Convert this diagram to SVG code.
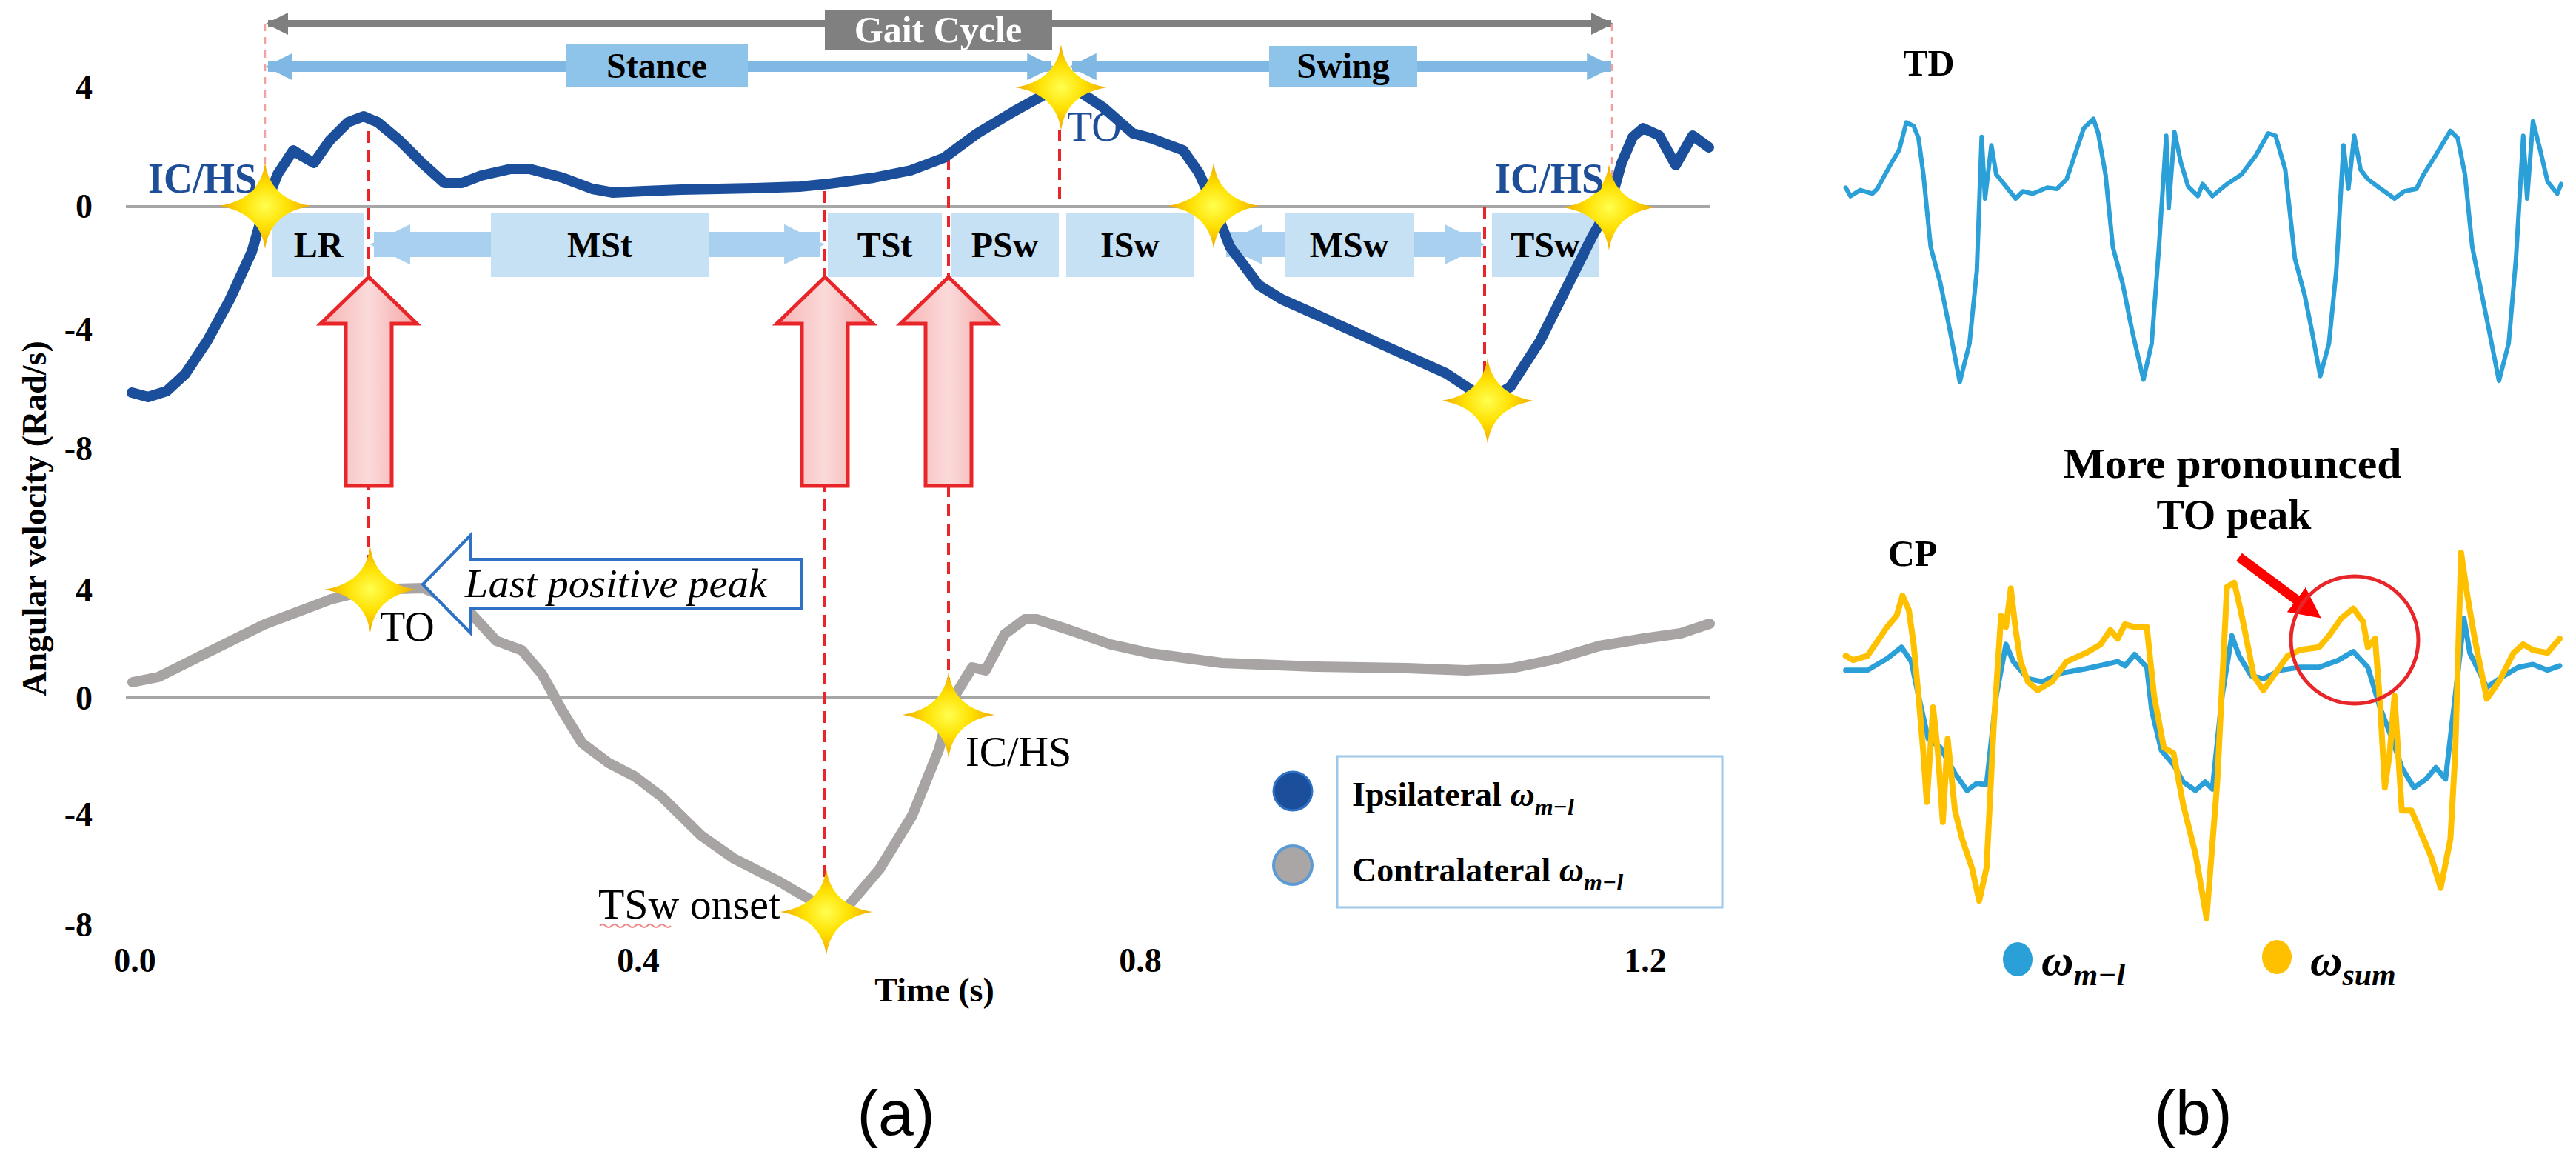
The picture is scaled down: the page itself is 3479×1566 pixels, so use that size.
<svg xmlns="http://www.w3.org/2000/svg" width="3479" height="1566" viewBox="0 0 3479 1566">
<style>
.tick{font-family:"Liberation Serif",serif;font-weight:bold;font-size:46px;fill:#000}
.ph{font-family:"Liberation Serif",serif;font-weight:bold;font-size:48px;fill:#000;text-anchor:middle}
.lbl{font-family:"Liberation Serif",serif;font-size:56px;fill:#000}
.blue{fill:#1f4e99;font-weight:bold}
.rdash{stroke:#e8262a;stroke-width:4;stroke-dasharray:16 10;fill:none}
.ldash{stroke:#f3a0a0;stroke-width:2.5;stroke-dasharray:10 8;fill:none}
.zero{stroke:#a6a6a6;stroke-width:4}
.phbox{fill:#c6e0f4}
.ns{vector-effect:non-scaling-stroke;fill:none;stroke-linejoin:round;stroke-linecap:round}
</style>
<defs>
<radialGradient id="sg" cx="0.5" cy="0.5" r="0.5">
<stop offset="0" stop-color="#ffff50"/><stop offset="0.5" stop-color="#ffe000"/><stop offset="1" stop-color="#f0a800"/>
</radialGradient>
<path id="star" d="M0,-58 Q7,-9 62,0 Q7,9 0,58 Q-7,9 -62,0 Q-7,-9 0,-58Z" fill="url(#sg)"/>
<linearGradient id="pk" x1="0" y1="0" x2="1" y2="0">
<stop offset="0" stop-color="#f7b3b3"/><stop offset="0.5" stop-color="#fbdada"/><stop offset="1" stop-color="#f5a5a5"/>
</linearGradient>
<marker id="gh" viewBox="0 0 10 10" refX="9" refY="5" markerWidth="3" markerHeight="4" orient="auto-start-reverse"><path d="M0,0 L10,5 L0,10 Z" fill="#7f7f7f"/></marker>
<marker id="bh" viewBox="0 0 10 10" refX="9" refY="5" markerWidth="2.6" markerHeight="3.4" orient="auto-start-reverse"><path d="M0,0 L10,5 L0,10 Z" fill="#7fb8e2"/></marker>
<marker id="lh" viewBox="0 0 10 10" refX="9" refY="5" markerWidth="1.6" markerHeight="2.4" orient="auto-start-reverse"><path d="M0,0 L10,5 L0,10 Z" fill="#a9d0ee"/></marker>
<marker id="rh" viewBox="0 0 10 10" refX="5" refY="5" markerWidth="3.2" markerHeight="3.2" orient="auto"><path d="M0,0 L10,5 L0,10 Z" fill="#ff0000"/></marker>
</defs>
<rect width="3479" height="1566" fill="#fff"/>

<g id="axes-a">
<text class="tick" x="125" y="133" text-anchor="end">4</text>
<text class="tick" x="125" y="294" text-anchor="end">0</text>
<text class="tick" x="125" y="460" text-anchor="end">-4</text>
<text class="tick" x="125" y="621" text-anchor="end">-8</text>
<text class="tick" x="125" y="812" text-anchor="end">4</text>
<text class="tick" x="125" y="958" text-anchor="end">0</text>
<text class="tick" x="125" y="1115" text-anchor="end">-4</text>
<text class="tick" x="125" y="1264" text-anchor="end">-8</text>
<text class="tick" x="182" y="1312" text-anchor="middle">0.0</text>
<text class="tick" x="862" y="1312" text-anchor="middle">0.4</text>
<text class="tick" x="1540" y="1312" text-anchor="middle">0.8</text>
<text class="tick" x="2222" y="1312" text-anchor="middle">1.2</text>
<text class="tick" x="1262" y="1352" text-anchor="middle" font-size="56">Time (s)</text>
<text class="tick" transform="translate(62,700) rotate(-90)" text-anchor="middle" font-size="48">Angular velocity (Rad/s)</text>
<line class="zero" x1="170" y1="279" x2="2310" y2="279"/>
<line class="zero" x1="170" y1="942" x2="2310" y2="942"/>
</g>

<g id="gait-cycle">
<line x1="362" y1="32" x2="2176" y2="32" stroke="#7f7f7f" stroke-width="10" marker-start="url(#gh)" marker-end="url(#gh)"/>
<rect x="1114" y="13" width="307" height="55" fill="#808080"/>
<text x="1267" y="57" text-anchor="middle" font-family="Liberation Serif,serif" font-weight="bold" font-size="50" fill="#fff">Gait Cycle</text>
</g>
<g id="stance">
<line x1="362" y1="90" x2="1420" y2="90" stroke="#7fb8e2" stroke-width="14" marker-start="url(#bh)" marker-end="url(#bh)"/>
<rect x="765" y="60" width="245" height="58" fill="#8ec3ea"/>
<text x="887" y="105" text-anchor="middle" font-family="Liberation Serif,serif" font-weight="bold" font-size="48">Stance</text>
</g>
<g id="swing">
<line x1="1448" y1="90" x2="2176" y2="90" stroke="#7fb8e2" stroke-width="14" marker-start="url(#bh)" marker-end="url(#bh)"/>
<rect x="1714" y="62" width="200" height="56" fill="#8ec3ea"/>
<text x="1814" y="105" text-anchor="middle" font-family="Liberation Serif,serif" font-weight="bold" font-size="48">Swing</text>
</g>

<g id="phases">
<rect class="phbox" x="368" y="287" width="123" height="87"/>
<text class="ph" x="430" y="347">LR</text>
<line x1="505" y1="330" x2="1108" y2="330" stroke="#a9d0ee" stroke-width="34" marker-start="url(#lh)" marker-end="url(#lh)"/>
<rect class="phbox" x="663" y="287" width="295" height="87"/>
<text class="ph" x="810" y="347">MSt</text>
<rect class="phbox" x="1118" y="287" width="154" height="87"/>
<text class="ph" x="1195" y="347">TSt</text>
<rect class="phbox" x="1284" y="287" width="146" height="87"/>
<text class="ph" x="1357" y="347">PSw</text>
<rect class="phbox" x="1440" y="287" width="172" height="87"/>
<text class="ph" x="1526" y="347">ISw</text>
<line x1="1656" y1="330" x2="2000" y2="330" stroke="#a9d0ee" stroke-width="34" marker-start="url(#lh)" marker-end="url(#lh)"/>
<rect class="phbox" x="1735" y="287" width="175" height="87"/>
<text class="ph" x="1822" y="347">MSw</text>
<rect class="phbox" x="2015" y="287" width="144" height="87"/>
<text class="ph" x="2087" y="347">TSw</text>
</g>

<g id="connectors">
<line class="ldash" x1="358" y1="32" x2="358" y2="279"/>
<line class="ldash" x1="2177" y1="32" x2="2177" y2="279"/>
<line class="rdash" x1="498" y1="177" x2="498" y2="800"/>
<line class="rdash" x1="1114" y1="258" x2="1114" y2="1231"/>
<line class="rdash" x1="1281" y1="213" x2="1281" y2="965"/>
<line class="rdash" x1="1431" y1="175" x2="1431" y2="272"/>
<line class="rdash" x1="2005" y1="280" x2="2005" y2="541"/>
</g>

<g id="up-arrows" fill="url(#pk)" stroke="#e8262a" stroke-width="5" stroke-linejoin="miter">
<path d="M498,374 L563,437 L529,437 L529,656 L467,656 L467,437 L433,437 Z"/>
<path d="M1114,374 L1179,437 L1145,437 L1145,656 L1083,656 L1083,437 L1049,437 Z"/>
<path d="M1281,374 L1346,437 L1312,437 L1312,656 L1250,656 L1250,437 L1216,437 Z"/>
</g>

<g id="ipsi-curve">
<polyline fill="none" stroke="#1b4f9c" stroke-width="14" stroke-linejoin="round" stroke-linecap="round" points="178,530 200,536 225,528 250,505 280,460 310,405 340,340 358,278 375,235 396,203 410,212 424,220 445,190 470,165 491,157 510,165 540,190 570,220 600,247 624,247 650,237 690,228 715,228 760,240 800,255 828,260 870,258 920,256 970,255 1020,254 1080,252 1120,248 1180,240 1230,230 1275,213 1320,180 1370,150 1410,128 1433,120 1460,125 1490,145 1530,180 1556,187 1598,203 1619,233 1639,277 1661,333 1700,385 1731,404 1776,424 1864,464 1953,504 2009,541 2040,522 2080,460 2120,380 2150,320 2173,280 2190,220 2205,185 2219,173 2241,183 2263,223 2286,183 2308,199"/>
</g>
<g id="contra-curve">
<polyline fill="none" stroke="#a8a4a4" stroke-width="14" stroke-linejoin="round" stroke-linecap="round" points="179,921 214,914 268,887 357,843 447,809 500,796 572,794 625,816 670,865 705,878 732,910 759,959 786,1003 822,1030 857,1048 893,1075 947,1128 991,1159 1054,1191 1107,1222 1143,1226 1188,1173 1232,1101 1268,1012 1286,945 1313,901 1331,905 1357,856 1384,836 1400,836 1443,850 1500,870 1554,882 1650,895 1776,900 1900,902 1980,905 2042,902 2100,890 2160,872 2220,862 2270,855 2309,842"/>
</g>

<g id="stars">
<use href="#star" x="358" y="278"/>
<use href="#star" x="1433" y="118"/>
<use href="#star" x="1639" y="278"/>
<use href="#star" x="2173" y="280"/>
<use href="#star" x="2009" y="541"/>
<use href="#star" x="500" y="796"/>
<use href="#star" x="1281" y="965"/>
<use href="#star" x="1116" y="1231"/>
</g>

<g id="event-labels">
<text class="lbl blue" x="200" y="260" textLength="147" lengthAdjust="spacingAndGlyphs">IC/HS</text>
<text class="lbl blue" x="2019" y="260" textLength="147" lengthAdjust="spacingAndGlyphs">IC/HS</text>
<text class="lbl" x="1441" y="190" style="fill:#1f4e99">TO</text>
<text class="lbl" x="513" y="865">TO</text>
<text class="lbl" x="1304" y="1034">IC/HS</text>
<text class="lbl" x="808" y="1240" textLength="246" lengthAdjust="spacingAndGlyphs">TSw onset</text>
<path d="M810,1250 q4,-4 8,0 t8,0 t8,0 t8,0 t8,0 t8,0 t8,0 t8,0 t8,0 t8,0 t8,0 t8,0" fill="none" stroke="#e88" stroke-width="2"/>
</g>

<g id="last-peak">
<path d="M571,789 L636,722 L636,755 L1082,755 L1082,822 L636,822 L636,855 Z" fill="#fff" stroke="#2f72c4" stroke-width="4"/>
<text x="628" y="806" font-family="Liberation Serif,serif" font-style="italic" font-size="54" textLength="408" lengthAdjust="spacingAndGlyphs">Last positive peak</text>
</g>

<g id="legend-a">
<rect x="1806" y="1021" width="520" height="204" fill="#fff" stroke="#9dc8ea" stroke-width="3"/>
<circle cx="1746" cy="1068" r="26" fill="#1b4f9c" stroke="#2f72c4" stroke-width="3"/>
<circle cx="1746" cy="1168" r="26" fill="#aaa6a6" stroke="#5b9bd5" stroke-width="4"/>
<text x="1826" y="1088" font-family="Liberation Serif,serif" font-weight="bold" font-size="46">Ipsilateral <tspan font-style="italic">ω</tspan><tspan font-style="italic" font-size="32" dy="12">m−l</tspan></text>
<text x="1826" y="1190" font-family="Liberation Serif,serif" font-weight="bold" font-size="46">Contralateral <tspan font-style="italic">ω</tspan><tspan font-style="italic" font-size="32" dy="12">m−l</tspan></text>
</g>

<g id="td">
<text x="2605" y="102" text-anchor="middle" font-family="Liberation Serif,serif" font-weight="bold" font-size="50">TD</text>
<g transform="translate(2450,105) scale(0.656,0.326)">
<polyline class="ns" stroke="#2a9fd8" stroke-width="6" points="65,455 75,490 95,465 120,480 130,460 160,350 175,300 190,185 205,200 215,250 225,400 240,700 260,850 280,1050 300,1260 320,1100 335,800 345,245 352,500 365,280 375,400 395,450 415,500 430,470 450,480 480,455 500,460 520,420 540,300 555,210 575,170 585,230 600,400 615,700 635,850 655,1050 678,1250 695,1100 710,700 725,240 730,540 742,225 755,350 770,450 790,490 800,440 820,490 850,440 880,400 910,320 935,230 950,240 970,380 990,750 1010,900 1025,1050 1042,1235 1060,1100 1075,800 1090,280 1100,460 1112,240 1125,380 1140,420 1160,450 1195,500 1215,470 1240,460 1255,400 1280,320 1310,220 1325,250 1340,400 1355,700 1370,850 1390,1050 1410,1255 1430,1100 1445,750 1460,240 1468,500 1480,180 1495,300 1510,430 1530,480 1538,440"/>
</g>
</g>
<g id="cp">
<text x="2583" y="764" text-anchor="middle" font-family="Liberation Serif,serif" font-weight="bold" font-size="50">CP</text>
<g transform="translate(2450,746) scale(0.656,0.387)">
<polyline class="ns" stroke="#2a9fd8" stroke-width="7" points="65,410 110,410 150,370 180,330 200,380 215,500 235,650 260,680 290,770 315,830 335,805 355,810 375,500 395,320 410,380 440,440 470,450 510,420 560,405 600,390 625,380 640,395 660,355 685,400 695,550 715,690 740,740 760,800 785,830 805,800 820,825 840,500 860,290 875,360 900,430 925,440 960,410 1000,400 1040,400 1080,375 1110,345 1140,400 1165,540 1190,650 1210,750 1235,820 1260,790 1280,750 1300,790 1320,500 1338,230 1350,350 1385,470 1420,430 1450,400 1480,390 1510,410 1535,395"/>
<polyline class="ns" stroke="#ffc000" stroke-width="8" points="65,360 80,375 110,360 150,260 170,220 182,150 195,200 205,320 215,500 225,700 232,870 245,540 255,700 265,940 275,650 290,900 305,1000 325,1100 340,1215 355,1100 370,600 385,220 395,260 405,125 415,270 425,380 440,450 460,480 490,450 520,380 560,350 590,320 610,270 625,300 640,250 660,260 685,260 700,500 720,680 740,700 760,880 785,1050 808,1275 830,800 850,120 865,105 878,200 890,300 905,430 925,480 950,420 975,360 1000,340 1040,330 1060,290 1085,230 1110,195 1130,240 1140,330 1155,300 1165,520 1175,820 1185,700 1195,500 1210,900 1230,900 1250,980 1270,1060 1290,1170 1310,1000 1320,700 1332,0 1345,150 1360,300 1385,510 1410,450 1440,350 1460,320 1480,340 1510,350 1535,300"/>
</g>
</g>
<g id="to-peak-note">
<text x="3015" y="645" text-anchor="middle" font-family="Liberation Serif,serif" font-weight="bold" font-size="56" textLength="457" lengthAdjust="spacingAndGlyphs">More pronounced</text>
<text x="3017" y="714" text-anchor="middle" font-family="Liberation Serif,serif" font-weight="bold" font-size="56">TO peak</text>
<line x1="3024" y1="752" x2="3118" y2="822" stroke="#ff0000" stroke-width="13" marker-end="url(#rh)"/>
<circle cx="3180" cy="864" r="86" fill="none" stroke="#e8262a" stroke-width="5"/>
</g>
<g id="legend-b">
<ellipse cx="2725" cy="1295" rx="20" ry="23" fill="#2a9fd8"/>
<text x="2757" y="1316" font-family="Liberation Serif,serif" font-weight="bold" font-style="italic" font-size="60">ω<tspan font-size="42" dy="14">m−l</tspan></text>
<ellipse cx="3075" cy="1292" rx="20" ry="23" fill="#ffc000"/>
<text x="3120" y="1316" font-family="Liberation Serif,serif" font-weight="bold" font-style="italic" font-size="60">ω<tspan font-size="42" dy="14">sum</tspan></text>
</g>
<g id="captions">
<text x="1210" y="1532" text-anchor="middle" font-family="Liberation Sans,sans-serif" font-size="86">(a)</text>
<text x="2962" y="1532" text-anchor="middle" font-family="Liberation Sans,sans-serif" font-size="86">(b)</text>
</g>
</svg>
